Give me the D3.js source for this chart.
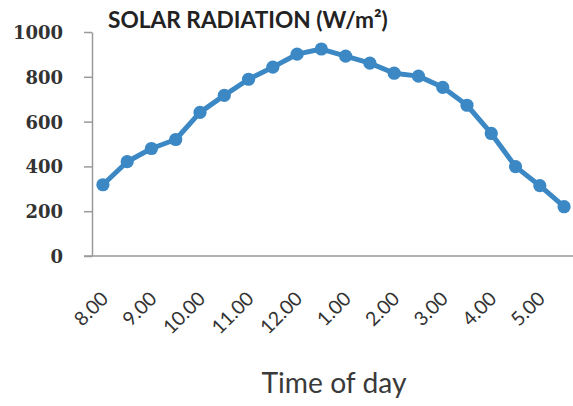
<!DOCTYPE html>
<html><head><meta charset="utf-8">
<script src="https://cdn.jsdelivr.net/npm/d3@7"></script>
<style>body{margin:0;background:#fff}svg{display:block}</style>
</head><body>
<svg id="c" width="573" height="406"></svg>
<script>
const times = ["8.00","8.30","9.00","9.30","10.00","10.30","11.00","11.30","12.00","12.30","1.00","1.30","2.00","2.30","3.00","3.30","4.00","4.30","5.00","5.30"];
const radiation = [318,421,480,520,641,717,789,843,901,924,892,861,816,803,753,673,547,399,314,220];
const tickLabels = ["8.00","9.00","10.00","11.00","12.00","1.00","2.00","3.00","4.00","5.00"];
const yTicks = [0,200,400,600,800,1000];

const svg = d3.select("#c");
const x = d3.scalePoint().domain(times).range([92, 575]).padding(0.45);
const y = d3.scaleLinear().domain([0, 1000]).range([256, 32]);

function fit(sel, target) {
  const w = sel.node().getComputedTextLength();
  const fs = +sel.attr("font-size");
  sel.attr("font-size", fs * target / w);
}

// y axis
const ya = svg.append("g").attr("transform","translate(92,0)")
  .call(d3.axisLeft(y).tickValues(yTicks).tickFormat(d3.format("d")).tickSize(8).tickSizeOuter(0).tickPadding(21));
ya.select(".domain").attr("stroke","#9a9a9a").attr("stroke-width",1.5);
ya.selectAll(".tick line").attr("stroke","#9a9a9a").attr("stroke-width",1.5);
ya.selectAll("text").attr("font-family","DejaVu Serif").attr("font-weight","bold")
  .attr("font-size",18).attr("fill","#333").attr("dy","0.36em");

// x axis
const xa = svg.append("g").attr("transform","translate(0,256)")
  .call(d3.axisBottom(x).tickValues(tickLabels).tickSize(0).tickSizeOuter(0));
xa.select(".domain").remove();
svg.append("line").attr("x1",84).attr("x2",573).attr("y1",256).attr("y2",256)
  .attr("stroke","#9a9a9a").attr("stroke-width",1.5);
xa.selectAll("text")
  .attr("font-family","Lato").attr("font-size",19.5).attr("fill","#333")
  .attr("text-anchor","end")
  .attr("dy",0).attr("y",0)
  .attr("transform","translate(6,44) rotate(-45)");

// line
const line = d3.line().x((d,i)=>x(times[i])).y(d=>y(d));
svg.append("path").datum(radiation).attr("d",line).attr("fill","none")
  .attr("stroke","#3b88c4").attr("stroke-width",5).attr("stroke-linejoin","round");
svg.selectAll("circle.pt").data(radiation).join("circle").attr("class","pt")
  .attr("cx",(d,i)=>x(times[i])).attr("cy",d=>y(d)).attr("r",6.6).attr("fill","#3b88c4");

// title
const title = svg.append("text").attr("x",108).attr("y",28)
  .attr("font-family","Lato").attr("font-weight","bold").attr("font-size",20).attr("fill","#222")
  .text("SOLAR RADIATION (W/m²)");
fit(title, 280);

// x title
const xt = svg.append("text").attr("x",334).attr("y",393).attr("text-anchor","middle")
  .attr("font-family","Lato").attr("font-size",22).attr("fill","#3a3a3a")
  .text("Time of day");
fit(xt, 145);
</script>
</body></html>
